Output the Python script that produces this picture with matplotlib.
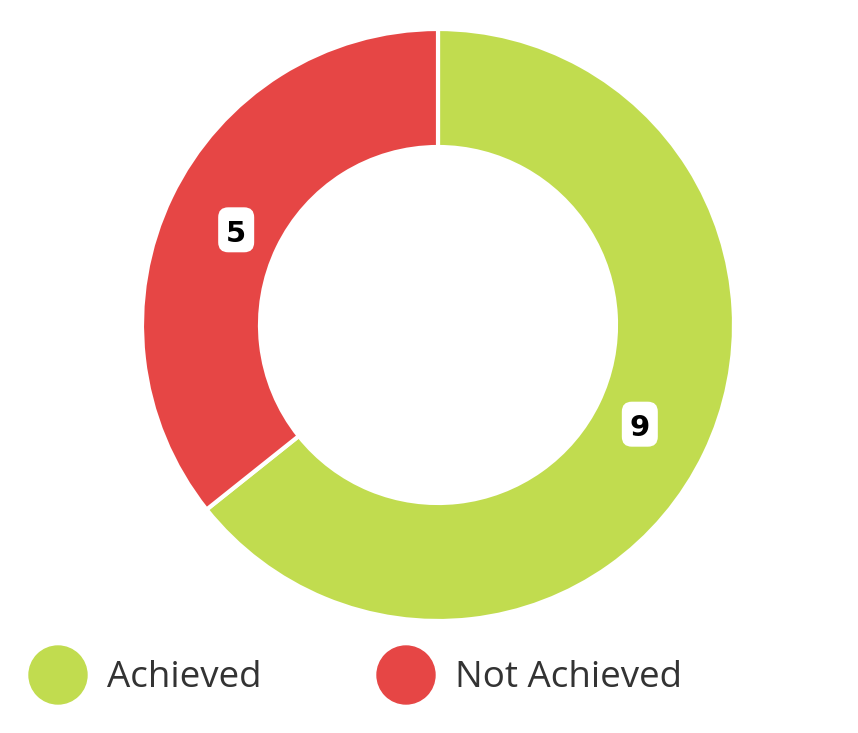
import matplotlib
matplotlib.use("Agg")
import matplotlib.pyplot as plt
from matplotlib.patches import Circle, FancyBboxPatch
import numpy as np

categories = ["Achieved", "Not Achieved"]
values = [9, 5]
colors = ["#C1DC4F", "#E64645"]

W, H = 858, 733
fig = plt.figure(figsize=(W / 100, H / 100), dpi=100)
ax = fig.add_axes([0, 0, 1, 1])

cx, cy = 438, H - 325
R = 296
width = 118

wedges, _ = ax.pie(values, colors=colors, startangle=90, counterclock=False,
                   center=(cx, cy), radius=R, frame=True,
                   wedgeprops=dict(width=width, edgecolor="white", linewidth=3))
ax.set_xlim(0, W)
ax.set_ylim(0, H)
ax.set_aspect("equal")
ax.axis("off")

label_r = 224
bw, bh = 36, 45
for w, v in zip(wedges, values):
    ang = np.deg2rad((w.theta1 + w.theta2) / 2)
    x = cx + label_r * np.cos(ang)
    y = cy + label_r * np.sin(ang) - 2
    ax.add_patch(FancyBboxPatch((x - bw / 2 + 9, y - bh / 2 + 9), bw - 18, bh - 18,
                                boxstyle="round,pad=9,rounding_size=10",
                                fc="white", ec="none", zorder=3))
    ax.text(x, y - 1, str(v), ha="center", va="center_baseline", fontsize=21,
            fontweight="heavy", family="DejaVu Sans", color="black", zorder=4)

# legend
leg_y = H - 675
leg_x = [58, 406]
for lx, cat, col in zip(leg_x, categories, colors):
    ax.add_patch(Circle((lx, leg_y), 29, color=col))
    ax.text(lx + 49, leg_y - 3, cat, ha="left", va="center", fontsize=26.5,
            family="Open Sans", color="#333333")

fig.savefig("out.png", dpi=100)
